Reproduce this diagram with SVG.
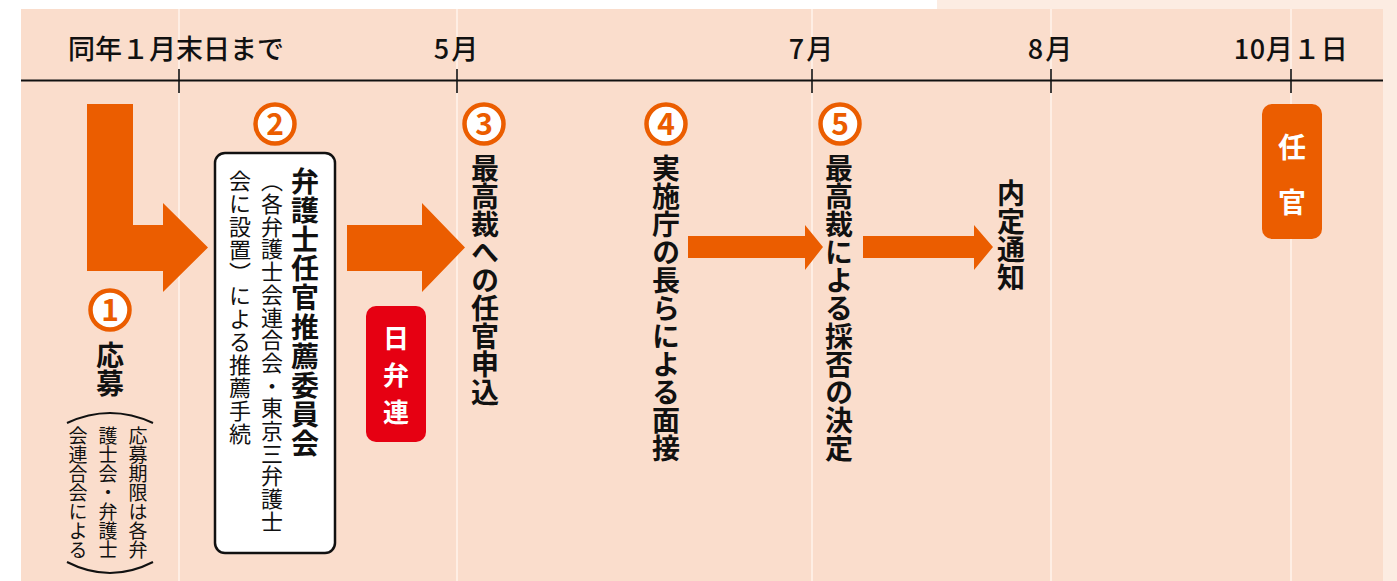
<svg xmlns="http://www.w3.org/2000/svg" width="1397" height="581" viewBox="0 0 1397 581">
<style>
.jp{font-family:"Noto Sans CJK JP","Noto Sans",sans-serif}
.lbl{font-size:27px;fill:#111;font-weight:500}
.v{writing-mode:vertical-rl;fill:#111}
.vb{font-weight:700;font-size:28px}
.vline{stroke:#FFF3EC;stroke-width:1.5}
.ax{stroke:#111;stroke-width:2}
.tick{stroke:#111;stroke-width:1.6}
.arr{fill:#EB5D00}
.circ{fill:#fff;stroke:#EB5D00;stroke-width:4.5}
.num{fill:#EB5D00;font-size:30px;font-weight:700;text-anchor:middle;font-family:"Noto Sans CJK JP","Noto Sans",sans-serif}
.wt{fill:#fff;font-weight:700}
</style>
<rect x="0" y="0" width="1397" height="581" fill="#fff"/>
<rect x="937" y="0" width="460" height="581" fill="#FCECE2"/>
<rect x="21" y="9" width="1362" height="572" fill="#FADDCC"/>
<g id="grid">
<line class="vline" x1="179" y1="9" x2="179" y2="581"/>
<line class="vline" x1="457" y1="9" x2="457" y2="581"/>
<line class="vline" x1="812" y1="9" x2="812" y2="581"/>
<line class="vline" x1="1051" y1="9" x2="1051" y2="581"/>
<line class="vline" x1="1291" y1="9" x2="1291" y2="581"/>
</g>
<g id="timeline">
<line class="ax" x1="21" y1="80.5" x2="1383" y2="80.5"/>
<line class="tick" x1="179" y1="69" x2="179" y2="93"/>
<line class="tick" x1="457" y1="69" x2="457" y2="93"/>
<line class="tick" x1="812" y1="69" x2="812" y2="93"/>
<line class="tick" x1="1051" y1="69" x2="1051" y2="93"/>
<line class="tick" x1="1291" y1="69" x2="1291" y2="93"/>
<text class="jp lbl" x="68" y="59">同年１月末日まで</text>
<text class="jp lbl" x="457" y="59" text-anchor="middle" letter-spacing="2">5月</text>
<text class="jp lbl" x="812" y="59" text-anchor="middle" letter-spacing="2">7月</text>
<text class="jp lbl" x="1051" y="59" text-anchor="middle" letter-spacing="2">8月</text>
<text class="jp lbl" x="1291" y="59" text-anchor="middle" letter-spacing="0.5">10月１日</text>
</g>
<g id="connectors">
<path class="arr" d="M87,104 H133 V225 H163 V203 L208,247.5 L163,292 V271 H87 Z"/>
<path class="arr" d="M347,225 H422 V203 L465,247.5 L422,292 V271 H347 Z"/>
<path class="arr" d="M688,236 H805 V225 L823,247 L805,270 V258 H688 Z"/>
<path class="arr" d="M863,236 H974 V225 L993,247 L974,270 V258 H863 Z"/>
</g>
<g id="node1">
<circle class="circ" cx="110" cy="310" r="19.5"/>
<text class="num" x="110" y="321">1</text>
<text class="jp v vb" x="110" y="341" font-size="27">応募</text>
<path d="M67,423 Q110,403 153,423" fill="none" stroke="#111" stroke-width="2"/>
<path d="M67,562 Q110,584 153,562" fill="none" stroke="#111" stroke-width="2"/>
<text class="jp v" x="138" y="426" font-size="19">応募期限は各弁</text>
<text class="jp v" x="108" y="426" font-size="19">護士会・弁護士</text>
<text class="jp v" x="78" y="426" font-size="19">会連合会による</text>
</g>
<g id="node2">
<circle class="circ" cx="275" cy="124" r="19.5"/>
<text class="num" x="275" y="135">2</text>
<rect x="215" y="153" width="120" height="400" rx="10" fill="#fff" stroke="#111" stroke-width="2.5"/>
<text class="jp v vb" x="305" y="167" font-size="27" letter-spacing="1.2">弁護士任官推薦委員会</text>
<text class="jp v" x="272" y="170" font-size="22" letter-spacing="0.7">（各弁護士会連合会・東京三弁護士</text>
<text class="jp v" x="240" y="170" font-size="22" letter-spacing="1">会に設置）による推薦手続</text>
</g>
<g id="nichibenren">
<rect x="366" y="306" width="60" height="136" rx="10" fill="#E60012"/>
<text class="jp v wt" x="396" y="325" font-size="26" letter-spacing="11">日弁連</text>
</g>
<g id="node3">
<circle class="circ" cx="484" cy="124" r="19.5"/>
<text class="num" x="484" y="135">3</text>
<text class="jp v vb" x="485" y="154">最高裁への任官申込</text>
</g>
<g id="node4">
<circle class="circ" cx="666" cy="124" r="19.5"/>
<text class="num" x="666" y="135">4</text>
<text class="jp v vb" x="666" y="154">実施庁の長らによる面接</text>
</g>
<g id="node5">
<circle class="circ" cx="840" cy="124" r="19.5"/>
<text class="num" x="840" y="135">5</text>
<text class="jp v vb" x="839" y="154">最高裁による採否の決定</text>
</g>
<g id="naitei">
<text class="jp v vb" x="1011" y="179">内定通知</text>
</g>
<g id="ninkan">
<rect x="1262" y="104" width="60" height="135" rx="10" fill="#EB5D00"/>
<text class="jp v wt" x="1292" y="133" font-size="28" letter-spacing="27">任官</text>
</g>
</svg>
